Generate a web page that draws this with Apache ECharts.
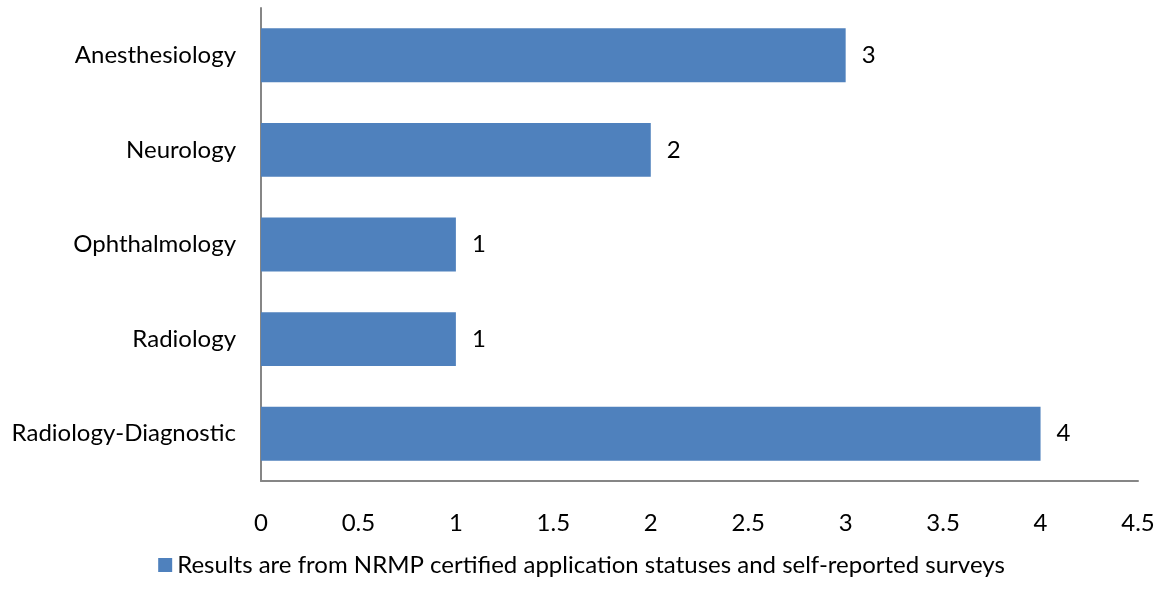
<!DOCTYPE html>
<html>
<head>
<meta charset="utf-8">
<script src="https://cdn.jsdelivr.net/npm/echarts@6/dist/echarts.min.js"></script>
<style>
  html, body { margin: 0; padding: 0; background: #fff; }
  #chart { width: 1163px; height: 605px; }
</style>
</head>
<body>
<div id="chart"></div>
<script>
const specialties = ['Anesthesiology', 'Neurology', 'Ophthalmology', 'Radiology', 'Radiology-Diagnostic'];
const counts = [3, 2, 1, 1, 4];
const seriesName = 'Results are from NRMP certified application statuses and self-reported surveys';

const font = 'Lato, "Open Sans", sans-serif';

const chart = echarts.init(document.getElementById('chart'));
chart.setOption({
  animation: false,
  textStyle: { fontFamily: font },
  grid: { left: 261, right: 25, top: 8, bottom: 124 },
  legend: {
    bottom: 23,
    left: 'center',
    itemWidth: 14,
    itemHeight: 14,
    itemGap: 6,
    icon: 'rect',
    textStyle: { fontSize: 24, color: '#000', fontFamily: font },
    data: [seriesName]
  },
  xAxis: {
    type: 'value',
    min: 0,
    max: 4.5,
    interval: 0.5,
    axisLine: { show: true, lineStyle: { color: '#868686', width: 2 } },
    axisTick: { show: false },
    splitLine: { show: false },
    axisLabel: { color: '#000', fontSize: 24, margin: 30, fontFamily: font }
  },
  yAxis: {
    type: 'category',
    inverse: true,
    data: specialties,
    axisLine: { show: true, lineStyle: { color: '#868686', width: 2 } },
    axisTick: { show: false },
    axisLabel: { color: '#000', fontSize: 24, margin: 25, fontFamily: font }
  },
  series: [{
    name: seriesName,
    type: 'bar',
    data: counts,
    barWidth: '57%',
    itemStyle: { color: '#4F81BD' },
    label: {
      show: true,
      position: 'right',
      distance: 16,
      color: '#000',
      fontSize: 24,
      fontFamily: font
    }
  }]
});
</script>
</body>
</html>
